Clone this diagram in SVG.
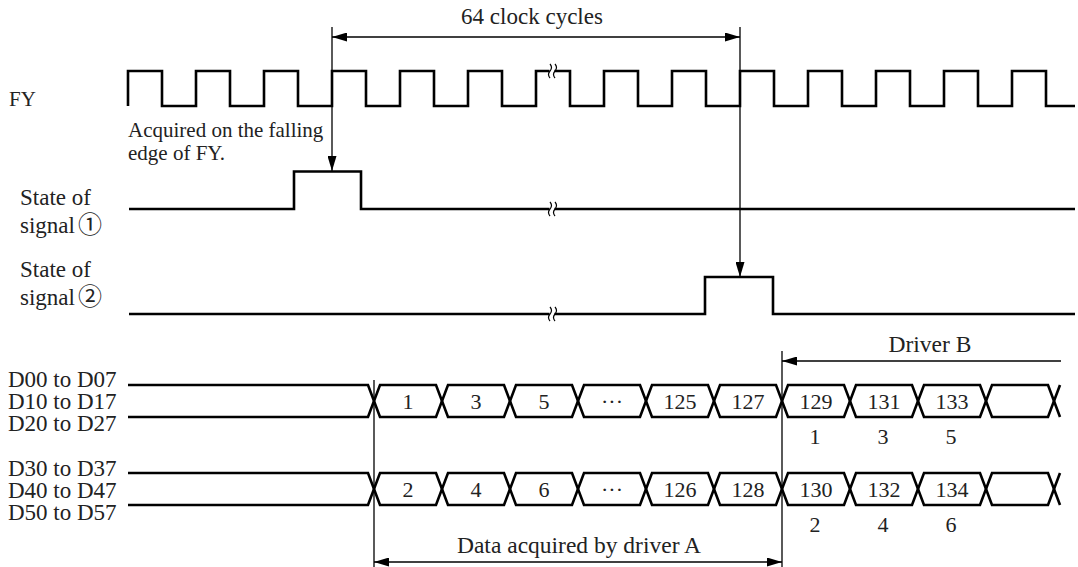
<svg xmlns="http://www.w3.org/2000/svg" width="1078" height="567" viewBox="0 0 1078 567">
<style>
text{font-family:"Liberation Serif","Times New Roman",serif;font-size:23px;fill:#222}
.mid{text-anchor:middle}
.num{font-size:22px}
.note{font-size:21px}
.sig{fill:none;stroke:#000;stroke-width:2.6;stroke-linejoin:miter}
.thin{fill:none;stroke:#000;stroke-width:1.3}
.brk{fill:none;stroke:#000;stroke-width:1.2}
.gap{fill:#fff;stroke:none}
.circ{font-family:"Noto Sans CJK JP","DejaVu Sans",sans-serif;font-size:24px}
</style>
<defs>
<marker id="ah" viewBox="0 0 15 9" refX="15" refY="4.5" markerWidth="15" markerHeight="9" markerUnits="userSpaceOnUse" orient="auto-start-reverse">
<path d="M0,0 L15,4.5 L0,9 z" fill="#000"/>
</marker>
</defs>

<g id="labels">
<text x="9" y="106" style="font-size:21px">FY</text>
<text class="note" x="128" y="137">Acquired on the falling</text>
<text class="note" x="128" y="160">edge of FY.</text>
<text x="20" y="205">State of</text>
<text x="20" y="233">signal<tspan class="circ" dx="3">①</tspan></text>
<text x="20" y="277">State of</text>
<text x="20" y="305">signal<tspan class="circ" dx="3">②</tspan></text>
<text x="8" y="387">D00 to D07</text>
<text x="8" y="409">D10 to D17</text>
<text x="8" y="431">D20 to D27</text>
<text x="8" y="476">D30 to D37</text>
<text x="8" y="498">D40 to D47</text>
<text x="8" y="520">D50 to D57</text>
</g>

<g id="fy-clock">
<path class="sig" d="M128,106 V71 H162 V106 H196 V71 H230 V106 H264 V71 H298 V106 H332 V71 H366 V106 H400 V71 H434 V106 H468 V71 H502 V106 H536 V71 H570 V106 H604 V71 H638 V106 H672 V71 H706 V106 H740 V71 H774 V106 H808 V71 H842 V106 H876 V71 H910 V106 H944 V71 H978 V106 H1012 V71 H1046 V106 H1075"/>
<rect class="gap" x="549.5" y="68" width="5" height="6"/>
<path class="brk" d="M550,78 q-3,-3.5 0,-7 t0,-7 M555,78 q-3,-3.5 0,-7 t0,-7"/>
</g>

<g id="signal1">
<path class="sig" d="M129,209 H294 V171.5 H361 V209 H1075"/>
<rect class="gap" x="549.5" y="206" width="5" height="6"/>
<path class="brk" d="M550,216 q-3,-3.5 0,-7 t0,-7 M555,216 q-3,-3.5 0,-7 t0,-7"/>
</g>

<g id="signal2">
<path class="sig" d="M129,314 H705 V277 H773 V314 H1075"/>
<rect class="gap" x="549.5" y="311" width="5" height="6"/>
<path class="brk" d="M550,321 q-3,-3.5 0,-7 t0,-7 M555,321 q-3,-3.5 0,-7 t0,-7"/>
</g>

<g id="bus1">
<path class="sig" d="M128,385 H368 L380,417 H436 L448,385 H504 L516,417 H572 L584,385 H640 L652,417 H708 L720,385 H776 L788,417 H844 L856,385 H912 L924,417 H980 L992,385 H1048 L1060,417"/>
<path class="sig" d="M128,417 H368 L380,385 H436 L448,417 H504 L516,385 H572 L584,417 H640 L652,385 H708 L720,417 H776 L788,385 H844 L856,417 H912 L924,385 H980 L992,417 H1048 L1060,385"/>
<text class="mid num" x="408" y="409">1</text>
<text class="mid num" x="476" y="409">3</text>
<text class="mid num" x="544" y="409">5</text>
<text class="mid num" x="612" y="409">···</text>
<text class="mid num" x="680" y="409">125</text>
<text class="mid num" x="748" y="409">127</text>
<text class="mid num" x="816" y="409">129</text>
<text class="mid num" x="884" y="409">131</text>
<text class="mid num" x="952" y="409">133</text>
<text class="mid num" x="815" y="444">1</text>
<text class="mid num" x="883" y="444">3</text>
<text class="mid num" x="951" y="444">5</text>
</g>

<g id="bus2">
<path class="sig" d="M128,473 H368 L380,505 H436 L448,473 H504 L516,505 H572 L584,473 H640 L652,505 H708 L720,473 H776 L788,505 H844 L856,473 H912 L924,505 H980 L992,473 H1048 L1060,505"/>
<path class="sig" d="M128,505 H368 L380,473 H436 L448,505 H504 L516,473 H572 L584,505 H640 L652,473 H708 L720,505 H776 L788,473 H844 L856,505 H912 L924,473 H980 L992,505 H1048 L1060,473"/>
<text class="mid num" x="408" y="497">2</text>
<text class="mid num" x="476" y="497">4</text>
<text class="mid num" x="544" y="497">6</text>
<text class="mid num" x="612" y="497">···</text>
<text class="mid num" x="680" y="497">126</text>
<text class="mid num" x="748" y="497">128</text>
<text class="mid num" x="816" y="497">130</text>
<text class="mid num" x="884" y="497">132</text>
<text class="mid num" x="952" y="497">134</text>
<text class="mid num" x="815" y="532">2</text>
<text class="mid num" x="883" y="532">4</text>
<text class="mid num" x="951" y="532">6</text>
</g>

<g id="connectors">
<line class="thin" x1="332" y1="27" x2="332" y2="171" marker-end="url(#ah)"/>
<line class="thin" x1="740" y1="27" x2="740" y2="277" marker-end="url(#ah)"/>
<line class="thin" x1="332" y1="37" x2="740" y2="37" marker-start="url(#ah)" marker-end="url(#ah)"/>
<text class="mid" x="532" y="24">64 clock cycles</text>
<line class="thin" x1="374" y1="380" x2="374" y2="567"/>
<line class="thin" x1="782" y1="351" x2="782" y2="567"/>
<line class="thin" x1="782" y1="361" x2="1061" y2="361" marker-start="url(#ah)"/>
<text class="mid" x="930" y="352" style="font-size:23.5px">Driver B</text>
<line class="thin" x1="374" y1="562" x2="782" y2="562" marker-start="url(#ah)" marker-end="url(#ah)"/>
<text class="mid" x="579" y="553" style="font-size:23.5px">Data acquired by driver A</text>
</g>
</svg>
